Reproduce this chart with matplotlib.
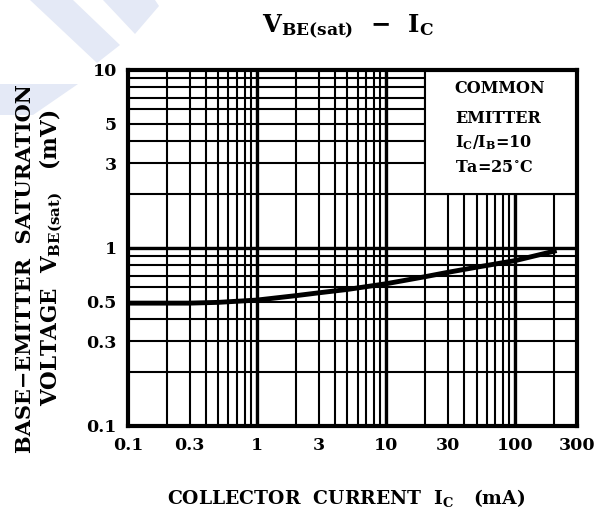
import matplotlib.pyplot as plt
from matplotlib.patches import Polygon, Rectangle
from matplotlib.ticker import LogLocator

ic_ma = [0.1, 0.3, 0.5, 1, 2, 3, 5, 10, 20, 30, 50, 100, 200]
vbe_sat = [0.49, 0.49, 0.495, 0.51, 0.54, 0.56, 0.585, 0.63, 0.69, 0.73, 0.78, 0.85, 0.96]

x_ticks = [0.1, 0.3, 1, 3, 10, 30, 100, 300]
x_labels = ['0.1', '0.3', '1', '3', '10', '30', '100', '300']
y_ticks = [0.1, 0.3, 0.5, 1, 3, 5, 10]
y_labels = ['0.1', '0.3', '0.5', '1', '3', '5', '10']
x_decades = [1, 10, 100]
y_decades = [1]

legend_lines = ['COMMON', 'EMITTER', 'I$_{\\mathrm{C}}$/I$_{\\mathrm{B}}$=10', 'Ta=25$^{\\circ}$C']

plt.rcParams['font.family'] = 'DejaVu Serif'
plt.rcParams['font.weight'] = 'bold'
plt.rcParams['mathtext.fontset'] = 'custom'
plt.rcParams['mathtext.rm'] = 'DejaVu Serif:bold'
plt.rcParams['mathtext.it'] = 'DejaVu Serif:bold'
plt.rcParams['mathtext.bf'] = 'DejaVu Serif:bold'

W, H = 613, 516
fig = plt.figure(figsize=(W / 100, H / 100), dpi=100)

# light blue watermark in the top-left corner (pixel coords -> figure fraction)
wm = '#e4e9f6'
for shape in [[(30, 0), (73, 0), (120, 45), (97, 63)],
              [(103, 0), (155, 0), (159, 6), (135, 34)],
              [(0, 84), (78, 84), (33, 115), (0, 115)]]:
    pts = [(x / W, 1 - y / H) for x, y in shape]
    fig.add_artist(Polygon(pts, closed=True, transform=fig.transFigure,
                           facecolor=wm, edgecolor='none', zorder=0))

ax = fig.add_axes([128 / W, 1 - 426 / H, (577 - 128) / W, (426 - 70) / H])
ax.set_xscale('log')
ax.set_yscale('log')
ax.set_xlim(0.1, 300)
ax.set_ylim(0.1, 10)

ax.set_xticks(x_ticks)
ax.set_xticklabels(x_labels)
ax.set_yticks(y_ticks)
ax.set_yticklabels(y_labels)
ax.xaxis.set_minor_locator(LogLocator(base=10, subs=range(1, 10)))
ax.yaxis.set_minor_locator(LogLocator(base=10, subs=range(1, 10)))

ax.grid(True, which='both', color='black', linewidth=1.5)
for xv in x_decades:
    ax.axvline(xv, color='black', linewidth=2.4, zorder=1)
for yv in y_decades:
    ax.axhline(yv, color='black', linewidth=2.4, zorder=1)
ax.set_axisbelow(True)

# condition box covering the upper right of the grid
ax.add_patch(Rectangle((20, 2), 300 - 20, 10 - 2, facecolor='white',
                       edgecolor='black', linewidth=1.5, zorder=2))
for txt, yy in zip(legend_lines, [0.949, 0.865, 0.795, 0.725]):
    ax.text(0.728, yy, txt, transform=ax.transAxes, fontsize=11.5,
            fontweight='bold', ha='left', va='center', zorder=4)

ax.plot(ic_ma, vbe_sat, color='black', linewidth=3.5, zorder=3)

ax.tick_params(which='both', length=0, labelsize=12.5, pad=8)
for lab in ax.get_xticklabels() + ax.get_yticklabels():
    lab.set_fontweight('bold')

for s in ax.spines.values():
    s.set_linewidth(3)
    s.set_zorder(5)

fig.text(348 / W, 1 - 27 / H, 'V$_{\\mathrm{BE(sat)}}$  \u2212  I$_{\\mathrm{C}}$',
         fontsize=17.5, fontweight='bold', ha='center', va='center')
fig.text(346 / W, 1 - 498 / H, 'COLLECTOR  CURRENT  I$_{\\mathrm{C}}$   (mA)',
         fontsize=13.5, fontweight='bold', ha='center', va='center')
fig.text(25 / W, 1 - 269 / H, 'BASE\u2212EMITTER  SATURATION', rotation=90,
         fontsize=15, fontweight='bold', ha='center', va='center')
fig.text(51 / W, 1 - 258 / H, 'VOLTAGE  V$_{\\mathrm{BE(sat)}}$   (mV)', rotation=90,
         fontsize=15.5, fontweight='bold', ha='center', va='center')

fig.savefig('out.png', dpi=100)
